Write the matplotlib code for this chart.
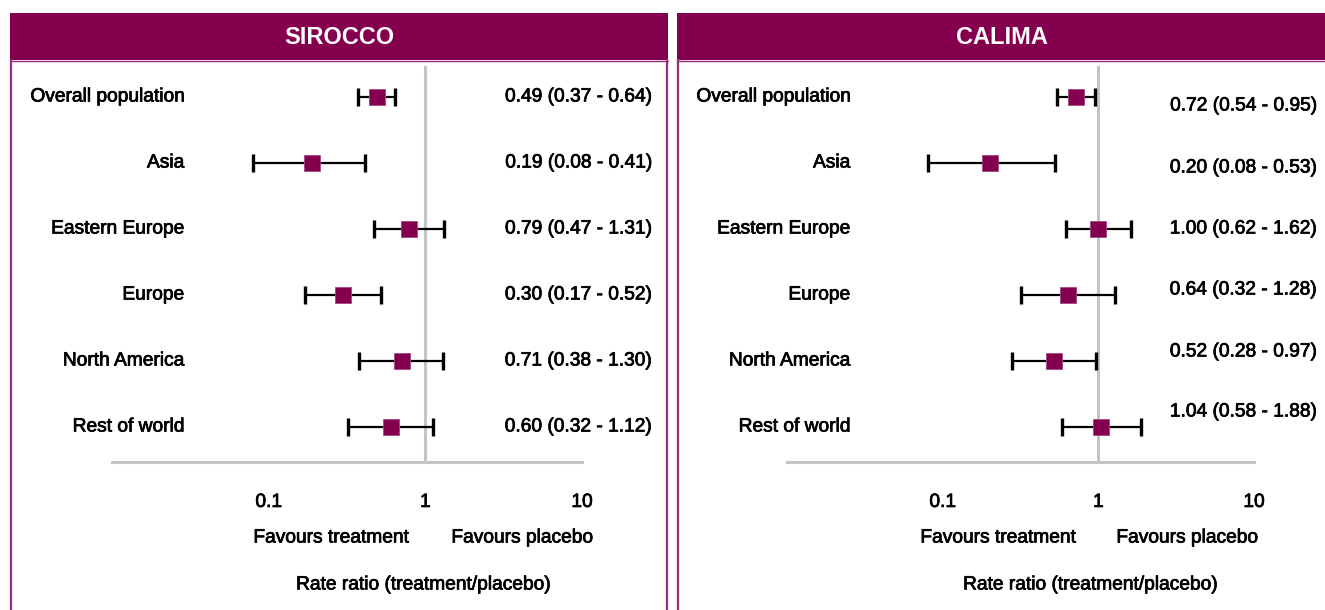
import numpy as np
import matplotlib
matplotlib.use("Agg")
import matplotlib.pyplot as plt
import matplotlib.patheffects as pe
from matplotlib.patches import Rectangle
from matplotlib.lines import Line2D

plt.rcParams['font.family'] = ['Liberation Sans', 'DejaVu Sans']

# ---- data ----
subgroups = ["Overall population", "Asia", "Eastern Europe", "Europe",
             "North America", "Rest of world"]

sirocco_rr = [0.49, 0.19, 0.79, 0.30, 0.71, 0.60]
sirocco_lo = [0.37, 0.08, 0.47, 0.17, 0.38, 0.32]
sirocco_hi = [0.64, 0.41, 1.31, 0.52, 1.30, 1.12]

calima_rr = [0.72, 0.20, 1.00, 0.64, 0.52, 1.04]
calima_lo = [0.54, 0.08, 0.62, 0.32, 0.28, 0.58]
calima_hi = [0.95, 0.53, 1.62, 1.28, 0.97, 1.88]

tick_values = [0.1, 1, 10]
tick_labels = ["0.1", "1", "10"]

# ---- figure (pixel based layout) ----
W, H = 1325, 610
fig = plt.figure(figsize=(W / 100, H / 100), dpi=100)

HEADER = "#84004f"
BORDER = "#9a2a7c"
MARKER = "#84004f"
GRID = "#c4c4c4"
FS = 13.8
HEAVY = [pe.withStroke(linewidth=0.55, foreground="black")]


def fx(x):
    return x / W


def fy(y):
    return 1 - y / H


def panel(title, x0, x1, ax_left, ax_right, rr, lo, hi, label_x, value_x,
          value_rows, fav_t_x, fav_p_x, xlabel_x, right_border=True):
    # header bar
    fig.patches.append(Rectangle((fx(x0), fy(60)), fx(x1) - fx(x0), fy(13) - fy(60),
                                 transform=fig.transFigure, facecolor=HEADER,
                                 edgecolor="none", zorder=0))
    fig.text(fx((x0 + x1) / 2), fy(37), title, color="white", fontsize=17,
             fontweight="bold", ha="center", va="center")
    # panel side borders
    fig.lines.append(Line2D([fx(x0 + 1), fx(x0 + 1)], [fy(60), 0],
                            transform=fig.transFigure, color=BORDER, lw=1.6))
    fig.lines.append(Line2D([fx(x0), fx(x1)], [fy(60.5), fy(60.5)],
                            transform=fig.transFigure, color=BORDER, lw=1.0))
    if right_border:
        fig.lines.append(Line2D([fx(x1 - 1), fx(x1 - 1)], [fy(60), 0],
                                transform=fig.transFigure, color=BORDER, lw=1.6))

    top, bottom = 66, 462
    ax = fig.add_axes([fx(ax_left), fy(bottom), fx(ax_right) - fx(ax_left),
                       fy(top) - fy(bottom)])
    n = len(rr)
    y = np.arange(n)
    # rows are 66 px apart
    ax.set_ylim(5 + (bottom - 427) / 66, -(97 - top) / 66)
    ax.set_xscale("log")
    ax.set_xlim(0.01, 10)

    ax.axvline(1, color=GRID, lw=2.2, zorder=1)
    rr_a = np.array(rr)
    ax.errorbar(rr_a, y, xerr=[rr_a - np.array(lo), np.array(hi) - rr_a],
                fmt="none", ecolor="black", elinewidth=1.6, capsize=6.5,
                capthick=2.4, zorder=2)
    ax.plot(rr_a, y, "s", color=MARKER, markersize=11,
            markeredgecolor="#a24684", markeredgewidth=0.6, zorder=3)

    for s in ["top", "left", "right"]:
        ax.spines[s].set_visible(False)
    ax.spines["bottom"].set_color(GRID)
    ax.spines["bottom"].set_linewidth(2.2)
    ax.set_yticks([])
    ax.set_xticks(tick_values)
    ax.set_xticklabels(tick_labels, fontsize=FS, path_effects=HEAVY)
    ax.xaxis.set_minor_locator(matplotlib.ticker.NullLocator())
    ax.tick_params(axis="x", length=0, pad=23)

    for i, name in enumerate(subgroups):
        ax.annotate(name, xy=(label_x, H - (97 + 66 * i)), xycoords="figure pixels",
                    ha="right", va="center", fontsize=FS, path_effects=HEAVY)
    for i in range(n):
        txt = f"{rr[i]:.2f} ({lo[i]:.2f} - {hi[i]:.2f})"
        ax.annotate(txt, xy=(value_x, H - value_rows[i]), xycoords="figure pixels",
                    ha="right", va="center", fontsize=FS, path_effects=HEAVY)

    fig.text(fx(fav_t_x), fy(538), "Favours treatment", ha="center", va="center",
             fontsize=FS, path_effects=HEAVY)
    fig.text(fx(fav_p_x), fy(538), "Favours placebo", ha="center", va="center",
             fontsize=FS, path_effects=HEAVY)
    fig.text(fx(xlabel_x), fy(585), "Rate ratio (treatment/placebo)", ha="center",
             va="center", fontsize=FS, path_effects=HEAVY)
    return ax


left_rows = [97 + 66 * i for i in range(6)]
right_rows = [106, 168, 229, 290, 352, 412]

panel("SIROCCO", 10, 668, 112, 582, sirocco_rr, sirocco_lo, sirocco_hi,
      184, 652, left_rows, 331, 522, 423)
panel("CALIMA", 677, 1326, 787, 1254, calima_rr, calima_lo, calima_hi,
      850, 1317, right_rows, 998, 1187, 1090, right_border=False)

fig.savefig("out.png", dpi=100)
